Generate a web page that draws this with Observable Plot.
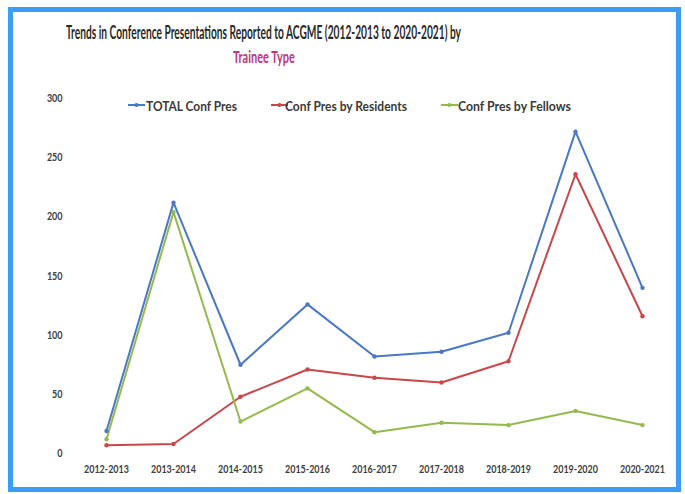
<!DOCTYPE html>
<html><head><meta charset="utf-8">
<script src="https://cdn.jsdelivr.net/npm/d3@7"></script>
<script src="https://cdn.jsdelivr.net/npm/@observablehq/plot@0.6"></script>
<style>
body{margin:0;background:#fff;}
#wrap{position:relative;width:685px;height:494px;overflow:hidden;font-family:Lato,"Open Sans",sans-serif;}
#frame{position:absolute;left:8px;top:7px;width:663px;height:475px;border:5px solid #3d9cf6;pointer-events:none;}
.t{position:absolute;white-space:nowrap;color:#2a2a2a;transform-origin:0 50%;font-weight:bold;line-height:1;}
#chart{position:absolute;left:0;top:0;}
.leg{position:absolute;top:97px;height:16px;}
.legt{position:absolute;white-space:nowrap;font-size:14px;font-weight:bold;color:#3a3a3a;transform-origin:0 50%;top:0;}
</style></head><body>
<div id="wrap">
<div id="chart"></div>
<div class="t" id="title1" style="top:23px;font-size:18px;">Trends in Conference Presentations Reported to ACGME (2012-2013 to 2020-2021) by</div>
<div class="t" id="title2" style="top:48px;font-size:17.5px;color:#c4357c;">Trainee Type</div>
<div id="legend"></div>
<div id="frame"></div>
</div>
<script>
const years = ["2012-2013","2013-2014","2014-2015","2015-2016","2016-2017","2017-2018","2018-2019","2019-2020","2020-2021"];
const totalPres = [19, 212, 75, 126, 82, 86, 102, 272, 140];
const residentPres = [7, 8, 48, 71, 64, 60, 78, 236, 116];
const fellowPres = [12, 204, 27, 55, 18, 26, 24, 36, 24];
const seriesNames = ["TOTAL Conf Pres","Conf Pres by Residents","Conf Pres by Fellows"];
const seriesColors = ["#4a78c2","#c8474a","#94b94f"];
const yTicks = [0,50,100,150,200,250,300];

const rows = [];
[totalPres, residentPres, fellowPres].forEach((arr, si) => {
  arr.forEach((v, i) => rows.push({year: years[i], value: v, series: seriesNames[si]}));
});

const plot = Plot.plot({
  width: 685, height: 494,
  marginLeft: 70, marginRight: 7.5, marginTop: 98, marginBottom: 41,
  style: {fontFamily: 'Lato,"Open Sans",sans-serif', fontSize: "11px", fontWeight: "bold", color: "#404040", background: "transparent"},
  x: {type: "point", domain: years, padding: 0.5, label: null, tickSize: 0, tickPadding: 12},
  y: {domain: [0, 300], ticks: yTicks, label: null, tickSize: 0, tickPadding: 8},
  color: {domain: seriesNames, range: seriesColors},
  marks: [
    Plot.gridY(yTicks, {stroke: "#e2e2e2", strokeOpacity: 1, strokeWidth: 1.5, x1: 70, x2: 673}),
    Plot.line(rows, {x: "year", y: "value", z: "series", stroke: "series", strokeWidth: 2}),
    Plot.dot(rows, {x: "year", y: "value", fill: "series", r: 2.2})
  ]
});
document.getElementById("chart").appendChild(plot);

// condense tick labels (reference font is a narrow face)
const xTickEls = plot.querySelectorAll('[aria-label="x-axis tick label"] text');
let factor = 1;
if (xTickEls.length) {
  const w = xTickEls[0].getComputedTextLength();
  if (w > 0) factor = 45 / w;
}
plot.querySelectorAll('[aria-label="x-axis tick label"] text, [aria-label="y-axis tick label"] text').forEach(t => {
  const w = t.getComputedTextLength();
  if (w > 0) { t.setAttribute("textLength", w * factor); t.setAttribute("lengthAdjust", "spacingAndGlyphs"); }
});

function fit(el, left, width) {
  el.style.left = left + "px";
  const w = el.getBoundingClientRect().width;
  el.style.transform = `scaleX(${width / w})`;
}
fit(document.getElementById("title1"), 66, 395);
fit(document.getElementById("title2"), 233, 62);

const legX = [128, 271, 441];
const legW = [91, 122, 113];
const leg = document.getElementById("legend");
seriesNames.forEach((n, i) => {
  const d = document.createElement("div");
  d.className = "leg";
  d.style.left = legX[i] + "px";
  d.innerHTML = `<svg width="18" height="16" style="position:absolute;left:0;top:0"><line x1="0" y1="8" x2="17" y2="8" stroke="${seriesColors[i]}" stroke-width="2"/><circle cx="8.5" cy="8" r="2" fill="${seriesColors[i]}"/></svg>`;
  const s = document.createElement("span");
  s.className = "legt";
  s.textContent = n;
  d.appendChild(s);
  leg.appendChild(d);
  s.style.left = (i === 0 ? 18 : (i === 1 ? 14 : 17)) + "px";
  const w = s.getBoundingClientRect().width;
  s.style.transform = `scaleX(${legW[i] / w})`;
});
</script>
</body></html>
